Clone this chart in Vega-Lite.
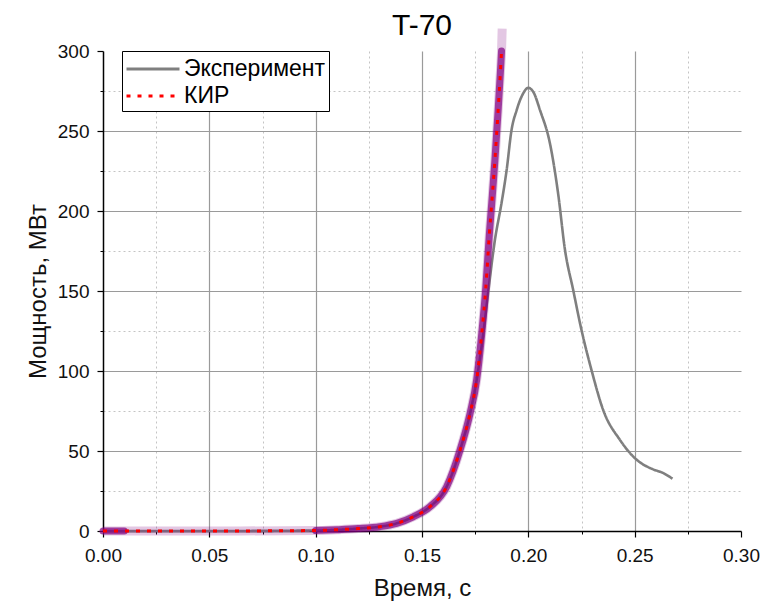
{
  "$schema": "https://vega.github.io/schema/vega-lite/v6.json",
  "autosize": "none",
  "width": 638,
  "height": 480,
  "padding": {"left": 103, "top": 51, "right": 32, "bottom": 72},
  "background": "white",
  "title": {"text": "T-70", "fontSize": 30, "font": "Liberation Sans", "fontWeight": "normal", "color": "#000", "anchor": "middle", "baseline": "alphabetic", "offset": 0, "dy": 54},
  "config": {
    "view": {"stroke": null},
    "font": "Liberation Sans",
    "axis": {"labelFont": "Liberation Sans", "titleFont": "Liberation Sans", "labelColor": "#111", "titleColor": "#111", "tickColor": "#000", "domainColor": "#000", "labelFlush": false}
  },
  "datasets": {
    "exp": [
      {"s": "Эксперимент", "t": 0.0, "p": 0},
      {"s": "Эксперимент", "t": 0.05, "p": 0},
      {"s": "Эксперимент", "t": 0.1, "p": 0.3},
      {"s": "Эксперимент", "t": 0.12, "p": 1.5},
      {"s": "Эксперимент", "t": 0.1302, "p": 2.7},
      {"s": "Эксперимент", "t": 0.1381, "p": 4.8},
      {"s": "Эксперимент", "t": 0.1459, "p": 8.9},
      {"s": "Эксперимент", "t": 0.1538, "p": 15.2},
      {"s": "Эксперимент", "t": 0.1616, "p": 27.7},
      {"s": "Эксперимент", "t": 0.1679, "p": 50.6},
      {"s": "Эксперимент", "t": 0.1726, "p": 73.5},
      {"s": "Эксперимент", "t": 0.1757, "p": 94.4},
      {"s": "Эксперимент", "t": 0.1785, "p": 120},
      {"s": "Эксперимент", "t": 0.1812, "p": 150},
      {"s": "Эксперимент", "t": 0.1843, "p": 182},
      {"s": "Эксперимент", "t": 0.1874, "p": 205},
      {"s": "Эксперимент", "t": 0.1898, "p": 225.6},
      {"s": "Эксперимент", "t": 0.1921, "p": 250.6},
      {"s": "Эксперимент", "t": 0.1945, "p": 263},
      {"s": "Эксперимент", "t": 0.197, "p": 272},
      {"s": "Эксперимент", "t": 0.2, "p": 277},
      {"s": "Эксперимент", "t": 0.2025, "p": 274},
      {"s": "Эксперимент", "t": 0.2055, "p": 263},
      {"s": "Эксперимент", "t": 0.2102, "p": 242},
      {"s": "Эксперимент", "t": 0.2141, "p": 210},
      {"s": "Эксперимент", "t": 0.2172, "p": 176},
      {"s": "Эксперимент", "t": 0.2211, "p": 150.6},
      {"s": "Эксперимент", "t": 0.225, "p": 125.6},
      {"s": "Эксперимент", "t": 0.2297, "p": 100.6},
      {"s": "Эксперимент", "t": 0.2352, "p": 75.6},
      {"s": "Эксперимент", "t": 0.2431, "p": 56.9},
      {"s": "Эксперимент", "t": 0.2502, "p": 45.4},
      {"s": "Эксперимент", "t": 0.2587, "p": 38.5},
      {"s": "Эксперимент", "t": 0.263, "p": 36.5},
      {"s": "Эксперимент", "t": 0.2678, "p": 32.7}
    ],
    "kir": [
      {"s": "КИР", "t": 0.0, "p": 0},
      {"s": "КИР", "t": 0.01, "p": 0},
      {"s": "КИР", "t": 0.05, "p": 0},
      {"s": "КИР", "t": 0.1, "p": 0.3},
      {"s": "КИР", "t": 0.11, "p": 0.8},
      {"s": "КИР", "t": 0.12, "p": 1.5},
      {"s": "КИР", "t": 0.1302, "p": 2.7},
      {"s": "КИР", "t": 0.1381, "p": 4.8},
      {"s": "КИР", "t": 0.1459, "p": 8.9},
      {"s": "КИР", "t": 0.1538, "p": 15.2},
      {"s": "КИР", "t": 0.1616, "p": 27.7},
      {"s": "КИР", "t": 0.1679, "p": 50.6},
      {"s": "КИР", "t": 0.1726, "p": 73.5},
      {"s": "КИР", "t": 0.1757, "p": 94.4},
      {"s": "КИР", "t": 0.178, "p": 122},
      {"s": "КИР", "t": 0.18, "p": 152},
      {"s": "КИР", "t": 0.1817, "p": 186},
      {"s": "КИР", "t": 0.1828, "p": 205},
      {"s": "КИР", "t": 0.1843, "p": 232},
      {"s": "КИР", "t": 0.1858, "p": 263},
      {"s": "КИР", "t": 0.187, "p": 290},
      {"s": "КИР", "t": 0.1874, "p": 300}
    ],
    "band": [
      {"g": "a", "t": 0.0, "p": 0},
      {"g": "a", "t": 0.05, "p": 0},
      {"g": "a", "t": 0.1, "p": 0.3},
      {"g": "a", "t": 0.11, "p": 0.8},
      {"g": "a", "t": 0.12, "p": 1.5},
      {"g": "a", "t": 0.1302, "p": 2.7},
      {"g": "a", "t": 0.1381, "p": 4.8},
      {"g": "a", "t": 0.1459, "p": 8.9},
      {"g": "a", "t": 0.1538, "p": 15.2},
      {"g": "a", "t": 0.1616, "p": 27.7},
      {"g": "a", "t": 0.1679, "p": 50.6},
      {"g": "a", "t": 0.1726, "p": 73.5},
      {"g": "a", "t": 0.1757, "p": 94.4},
      {"g": "a", "t": 0.178, "p": 122},
      {"g": "a", "t": 0.18, "p": 152},
      {"g": "a", "t": 0.1817, "p": 186},
      {"g": "a", "t": 0.1828, "p": 205},
      {"g": "a", "t": 0.1843, "p": 232},
      {"g": "a", "t": 0.1858, "p": 263},
      {"g": "a", "t": 0.187, "p": 290},
      {"g": "a", "t": 0.1874, "p": 300},
      {"g": "a", "t": 0.1877, "p": 314}
    ],
    "dark": [
      {"g": "b1", "t": 0.0, "p": 0},
      {"g": "b1", "t": 0.01, "p": 0},
      {"g": "b2", "t": 0.1, "p": 0.3},
      {"g": "b2", "t": 0.11, "p": 0.8},
      {"g": "b2", "t": 0.12, "p": 1.5},
      {"g": "b2", "t": 0.1302, "p": 2.7},
      {"g": "b2", "t": 0.1381, "p": 4.8},
      {"g": "b2", "t": 0.1459, "p": 8.9},
      {"g": "b2", "t": 0.1538, "p": 15.2},
      {"g": "b2", "t": 0.1616, "p": 27.7},
      {"g": "b2", "t": 0.1679, "p": 50.6},
      {"g": "b2", "t": 0.1726, "p": 73.5},
      {"g": "b2", "t": 0.1757, "p": 94.4},
      {"g": "b2", "t": 0.178, "p": 122},
      {"g": "b2", "t": 0.18, "p": 152},
      {"g": "b2", "t": 0.1817, "p": 186},
      {"g": "b2", "t": 0.1828, "p": 205},
      {"g": "b2", "t": 0.1843, "p": 232},
      {"g": "b2", "t": 0.1858, "p": 263},
      {"g": "b2", "t": 0.187, "p": 290},
      {"g": "b2", "t": 0.1874, "p": 300}
    ]
  },
  "resolve": {"axis": {"x": "independent", "y": "independent"}},
  "layer": [
    {
      "data": {"name": "exp"},
      "mark": {"type": "line", "strokeWidth": 2.6, "interpolate": "monotone", "clip": false},
      "encoding": {
        "x": {"field": "t", "type": "quantitative", "scale": {"domain": [0, 0.3], "nice": false, "zero": false},
          "axis": {"orient": "bottom", "values": [0.025, 0.075, 0.125, 0.175, 0.225, 0.275], "labels": false, "title": null, "domain": false, "tickSize": 3, "grid": true, "gridDash": [2, 3], "gridColor": "#c4c4c4", "gridWidth": 1}},
        "y": {"field": "p", "type": "quantitative", "scale": {"domain": [0, 300], "nice": false},
          "axis": {"orient": "left", "values": [25, 75, 125, 175, 225, 275], "labels": false, "title": null, "domain": false, "tickSize": 3, "grid": true, "gridDash": [2, 3], "gridColor": "#c4c4c4", "gridWidth": 1}},
        "color": {"field": "s", "type": "nominal", "scale": {"domain": ["Эксперимент", "КИР"], "range": ["#7f7f7f", "#ff0000"]},
          "legend": {"title": null, "orient": "none", "legendX": 19, "legendY": 0, "symbolType": "M-2,0H2", "symbolSize": 702, "symbolStrokeWidth": 3, "symbolOffset": 13, "labelOffset": 16, "labelFontSize": 23, "labelFont": "Liberation Sans", "labelColor": "#000", "rowPadding": -3, "padding": 3, "strokeColor": "#000", "fillColor": "white", "labelLimit": 300}},
        "strokeDash": {"field": "s", "type": "nominal", "scale": {"domain": ["Эксперимент", "КИР"], "range": [[1, 0], [4, 7]]}, "legend": null}
      }
    },
    {
      "data": {"name": "band"},
      "mark": {"type": "line", "color": "#800080", "opacity": 0.22, "strokeWidth": 9, "interpolate": "monotone", "strokeCap": "butt", "clip": false},
      "encoding": {
        "x": {"field": "t", "type": "quantitative",
          "axis": {"orient": "bottom", "values": [0.05, 0.1, 0.15, 0.2, 0.25], "labels": false, "ticks": false, "domain": false, "title": null, "grid": true, "gridColor": "#9a9a9a", "gridWidth": 1.2}},
        "y": {"field": "p", "type": "quantitative",
          "axis": {"orient": "left", "values": [50, 100, 150, 200, 250], "labels": false, "ticks": false, "domain": false, "title": null, "grid": true, "gridColor": "#9a9a9a", "gridWidth": 1.2}},
        "detail": {"field": "g"}
      }
    },
    {
      "data": {"name": "dark"},
      "mark": {"type": "line", "color": "#800080", "opacity": 0.7, "strokeWidth": 7, "interpolate": "monotone", "strokeCap": "round"},
      "encoding": {
        "x": {"field": "t", "type": "quantitative",
          "axis": {"orient": "bottom", "values": [0, 0.05, 0.1, 0.15, 0.2, 0.25, 0.3], "format": ".2f", "grid": false, "tickSize": 6, "labelFontSize": 19, "labelPadding": 9, "title": "Время, с", "titleFontSize": 24, "titleFontWeight": "normal", "titlePadding": 11, "domainWidth": 1.5, "tickWidth": 1.2}},
        "y": {"field": "p", "type": "quantitative",
          "axis": {"orient": "left", "values": [0, 50, 100, 150, 200, 250, 300], "grid": false, "tickSize": 6, "labelFontSize": 19, "labelPadding": 8, "title": "Мощность, МВт", "titleFontSize": 24, "titleFontWeight": "normal", "titlePadding": 7, "domainWidth": 1.5, "tickWidth": 1.2}},
        "detail": {"field": "g"}
      }
    },
    {
      "data": {"name": "kir"},
      "mark": {"type": "line", "strokeWidth": 3, "interpolate": "monotone"},
      "encoding": {
        "x": {"field": "t", "type": "quantitative", "axis": null},
        "y": {"field": "p", "type": "quantitative", "axis": null},
        "color": {"field": "s", "type": "nominal"},
        "strokeDash": {"field": "s", "type": "nominal"}
      }
    }
  ]
}
